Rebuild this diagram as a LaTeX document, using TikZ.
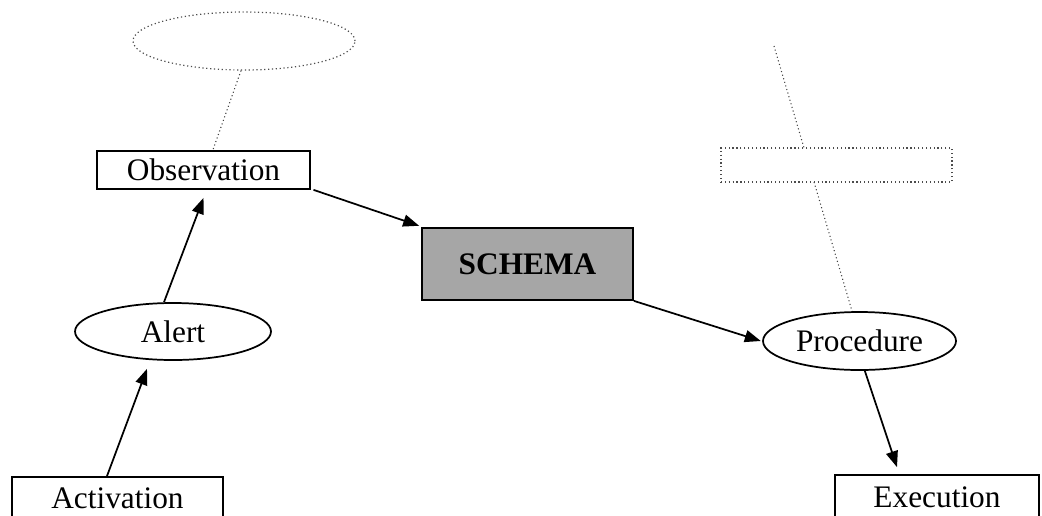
\documentclass[tikz,border=0pt]{standalone}
\usepackage{fontspec}
\setmainfont{Liberation Serif}
\usetikzlibrary{shapes.geometric,arrows.meta}
\definecolor{schemagray}{HTML}{A6A6A6}
\begin{document}
\begin{tikzpicture}[x=0.75pt,y=-0.75pt,
  every node/.style={font=\fontsize{23.5}{27}\selectfont, inner sep=0pt},
  boxnode/.style={draw, line width=1.3pt, rectangle, fill=white},
  ellnode/.style={draw, line width=1.3pt, ellipse, fill=white},
  ghostbox/.style={draw=gray!60!black, dotted, line width=0.9pt, rectangle, fill=white},
  ghostell/.style={draw=gray!60!black, dotted, line width=0.9pt, ellipse},
  arr/.style={line width=1.3pt, -{Triangle[length=12pt,width=9pt]}},
  thin dotted line/.style={draw=gray!50!black, dotted, line width=0.8pt}
]
\useasboundingbox (0,0) rectangle (1042,515);

% dotted line behind the right dotted rectangle
\coordinate (rtop) at (774,46);
\node[ellnode, minimum width=144.75pt, minimum height=43.5pt] (proc) at (859.5,341) {Procedure};
\draw[thin dotted line] (rtop) -- ([xshift=-5.6pt]proc.north);
\node[ghostbox, minimum width=173.25pt, minimum height=25.5pt] (rrect) at (836.5,165) {};

\node[ghostell, minimum width=166.5pt, minimum height=43.5pt] (topell) at (244,41) {};
\node[boxnode, minimum width=159.75pt, minimum height=28.5pt] (obs) at (203.5,170) {Observation};
\node[boxnode, fill=schemagray, minimum width=158.25pt, minimum height=54pt, font=\fontsize{23.5}{27}\selectfont\bfseries] (schema) at (527.5,264) {SCHEMA};
\node[ellnode, minimum width=147pt, minimum height=42.75pt] (alert) at (173,331.5) {Alert};
\node[boxnode, minimum width=158.25pt, minimum height=31.5pt] (act) at (117.5,498) {Activation};
\node[boxnode, minimum width=153pt, minimum height=33pt] (exec) at (937,497) {Execution};

\draw[thin dotted line] ([xshift=-2.25pt]topell.south) -- ([xshift=7pt]obs.north);

\draw[arr] ([xshift=-7.9pt]act.north) -- ([shift={(-19.5pt,-6pt)}]alert.south);
\draw[arr] ([xshift=-6.75pt]alert.north) -- ([yshift=-6pt]obs.south);
\draw[arr] ([xshift=2pt]obs.south east) -- ([shift={(-1.5pt,1pt)}]schema.north west);
\draw[arr] (schema.south east) -- ([xshift=-1pt]proc.west);
\draw[arr] ([xshift=4pt]proc.south) -- ([shift={(-30pt,5.25pt)}]exec.north);
\end{tikzpicture}
\end{document}
